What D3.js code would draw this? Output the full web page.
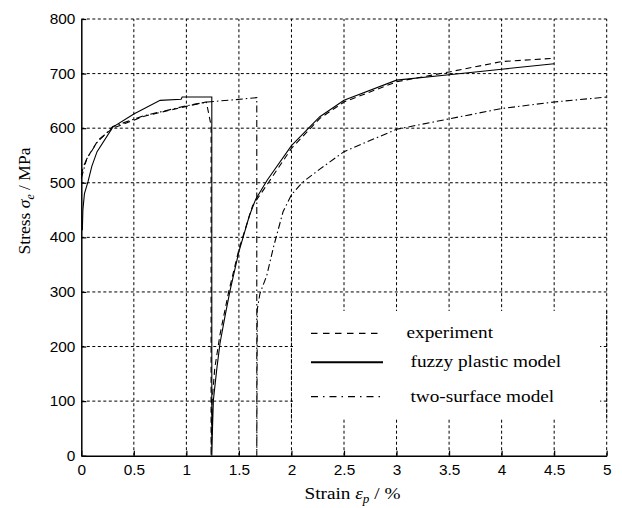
<!DOCTYPE html>
<html>
<head>
<meta charset="utf-8">
<script src="https://cdn.jsdelivr.net/npm/d3@7"></script>
<style>
  body { margin: 0; background: #fff; }
  .tick-label { font-family: "Liberation Sans", Arial, sans-serif; font-size: 14px; fill: #000; }
  .axisText { font-family: "Liberation Serif", "Times New Roman", serif; font-size: 17.5px; fill: #000; }
  .legendText { font-family: "Liberation Serif", "Times New Roman", serif; font-size: 17.5px; fill: #000; }
</style>
</head>
<body>
<div id="chart"></div>
<script>
  // tick values
  var xTicks = [0, 0.5, 1, 1.5, 2, 2.5, 3, 3.5, 4, 4.5, 5];
  var yTicks = [0, 100, 200, 300, 400, 500, 600, 700, 800];

  // series: [strain %, stress MPa]
  var experiment = [
    [0, 515], [0.02, 530], [0.07, 550], [0.16, 578], [0.3, 600], [0.6, 622],
    [1.0, 640], [1.19, 648], [1.235, 605], [1.235, 0],
    [1.245, 100], [1.27, 160], [1.32, 222], [1.4, 298], [1.5, 378], [1.63, 458],
    [1.78, 500], [2.0, 563], [2.27, 618], [2.5, 648], [3.0, 685], [3.5, 703],
    [4.0, 722], [4.5, 728]
  ];
  var fuzzy = [
    [0.01, 413], [0.015, 450], [0.03, 480], [0.064, 502], [0.1, 530], [0.15, 557],
    [0.3, 602], [0.5, 626], [0.75, 651], [0.95, 653], [0.96, 657], [1.242, 657],
    [1.242, 0], [1.25, 60], [1.257, 102], [1.29, 160], [1.32, 206], [1.37, 258],
    [1.416, 303], [1.5, 374], [1.6, 440], [1.66, 470], [1.77, 505], [2.0, 568],
    [2.27, 621], [2.5, 651], [3.0, 688], [3.5, 698], [4.0, 708], [4.5, 718]
  ];
  var twoSurface = [
    [0, 508], [0.05, 543], [0.15, 574], [0.3, 603], [0.6, 623], [1.0, 641],
    [1.2, 648], [1.45, 652], [1.67, 656], [1.67, 0],
    [1.675, 268], [1.7, 297], [1.765, 330], [1.83, 383], [1.92, 447], [2.0, 478],
    [2.1, 500], [2.27, 525], [2.5, 557], [3.0, 598], [3.5, 617], [4.0, 636],
    [4.5, 648], [5.0, 657]
  ];

  var seriesNames = ["experiment", "fuzzy plastic model", "two-surface model"];

  var svgWidth = 622;
  var svgHeight = 508;
  // the source picture is a little wider than tall, stretch text to match
  var stretch = 1.1;

  var svg = d3.select("#chart")
    .append("svg")
    .attr("width", svgWidth)
    .attr("height", svgHeight);

  // scales
  var xScale = d3.scaleLinear().domain([0, 5]).range([81.3, 606.7]);
  var yScale = d3.scaleLinear().domain([0, 800]).range([455.7, 19]);

  // dotted grid
  var grid = svg.append("g")
    .attr("stroke", "#000")
    .attr("stroke-width", 1)
    .attr("stroke-dasharray", "3,2.5")
    .attr("fill", "none");

  grid.selectAll(".vgrid")
    .data(xTicks.slice(1))
    .enter()
    .append("line")
    .attr("x1", d => xScale(d))
    .attr("x2", d => xScale(d))
    .attr("y1", yScale(0))
    .attr("y2", yScale(800));

  grid.selectAll(".hgrid")
    .data(yTicks.slice(1))
    .enter()
    .append("line")
    .attr("x1", xScale(0))
    .attr("x2", xScale(5))
    .attr("y1", d => yScale(d))
    .attr("y2", d => yScale(d));

  // legend background hides the grid behind it
  var legend = svg.append("g");
  legend.append("rect")
    .attr("x", 293)
    .attr("y", 311)
    .attr("width", 307)
    .attr("height", 108)
    .attr("fill", "#fff");
  // x = 2 and x = 5 grid lines show through the legend
  svg.selectAll(".legendGrid")
    .data([2, 5])
    .enter()
    .append("line")
    .attr("x1", d => xScale(d)).attr("x2", d => xScale(d))
    .attr("y1", 311).attr("y2", 419)
    .attr("stroke", "#000")
    .attr("stroke-dasharray", "3,2.5");

  // curves
  var line = d3.line()
    .x(d => xScale(d[0]))
    .y(d => yScale(d[1]));

  var styles = [
    { data: experiment, dash: "6,4", width: 1.1 },
    { data: fuzzy, dash: null, width: 1.1 },
    { data: twoSurface, dash: "7,3,1.5,3", width: 1.1 }
  ];

  svg.selectAll(".curve")
    .data(styles)
    .enter()
    .append("path")
    .attr("class", "curve")
    .attr("d", d => line(d.data))
    .attr("fill", "none")
    .attr("stroke", "#000")
    .attr("stroke-width", d => d.width)
    .attr("stroke-dasharray", d => d.dash);

  // axes (solid left/bottom with inward ticks)
  var bottomAxis = d3.axisBottom(xScale)
    .tickValues(xTicks)
    .tickSizeInner(-5)
    .tickSizeOuter(0)
    .tickPadding(9)
    .tickFormat(d3.format("~g"));

  var leftAxis = d3.axisLeft(yScale)
    .tickValues(yTicks)
    .tickSizeInner(-5)
    .tickSizeOuter(0)
    .tickPadding(6);

  var xAxisG = svg.append("g")
    .attr("transform", `translate(0, ${yScale(0)})`)
    .call(bottomAxis);

  var yAxisG = svg.append("g")
    .attr("transform", `translate(${xScale(0)}, 0)`)
    .call(leftAxis);

  [xAxisG, yAxisG].forEach(function(g) {
    g.select(".domain").attr("stroke", "#000").attr("stroke-width", 1.5);
    g.selectAll(".tick line").attr("stroke", "#000").attr("stroke-width", 1.2);
    g.selectAll(".tick text")
      .attr("class", "tick-label")
      .attr("font-family", null)
      .attr("font-size", null);
  });
  xAxisG.selectAll(".tick text").attr("transform", `scale(${stretch},1)`);
  yAxisG.selectAll(".tick text")
    .attr("x", -6 / stretch)
    .attr("transform", `scale(${stretch},1)`);

  // legend entries
  var legendRows = legend.selectAll(".legendRow")
    .data(seriesNames)
    .enter()
    .append("g")
    .attr("transform", (d, i) => `translate(0, ${[333.3, 362.3, 396.7][i]})`);

  legendRows.append("line")
    .attr("x1", 311)
    .attr("x2", 383)
    .attr("y1", 0)
    .attr("y2", 0)
    .attr("stroke", "#000")
    .attr("stroke-width", (d, i) => i === 1 ? 2 : 1.2)
    .attr("stroke-dasharray", (d, i) => [ "6.5,5.5", null, "7,5,1.5,5" ][i]);

  legendRows.append("text")
    .attr("class", "legendText")
    .attr("transform", (d, i) => `translate(${i === 0 ? 406.5 : 410.5}, 5) scale(${stretch},1)`)
    .text(d => d);

  // axis labels
  var yLabel = svg.append("text")
    .attr("class", "axisText")
    .attr("transform", `translate(30, 201) rotate(-90)`)
    .attr("text-anchor", "middle");
  yLabel.append("tspan").text("Stress ");
  yLabel.append("tspan").attr("font-style", "italic").text("σ");
  yLabel.append("tspan").attr("font-style", "italic").attr("font-size", "12px").attr("dy", 4).text("e");
  yLabel.append("tspan").attr("dy", -4).text(" / MPa");

  var xLabel = svg.append("text")
    .attr("class", "axisText")
    .attr("transform", `translate(352.5, 499) scale(${stretch},1)`)
    .attr("text-anchor", "middle");
  xLabel.append("tspan").text("Strain ");
  xLabel.append("tspan").attr("font-style", "italic").text("ε");
  xLabel.append("tspan").attr("font-style", "italic").attr("font-size", "12px").attr("dy", 4).text("p");
  xLabel.append("tspan").attr("dy", -4).text(" / %");
</script>
</body>
</html>
